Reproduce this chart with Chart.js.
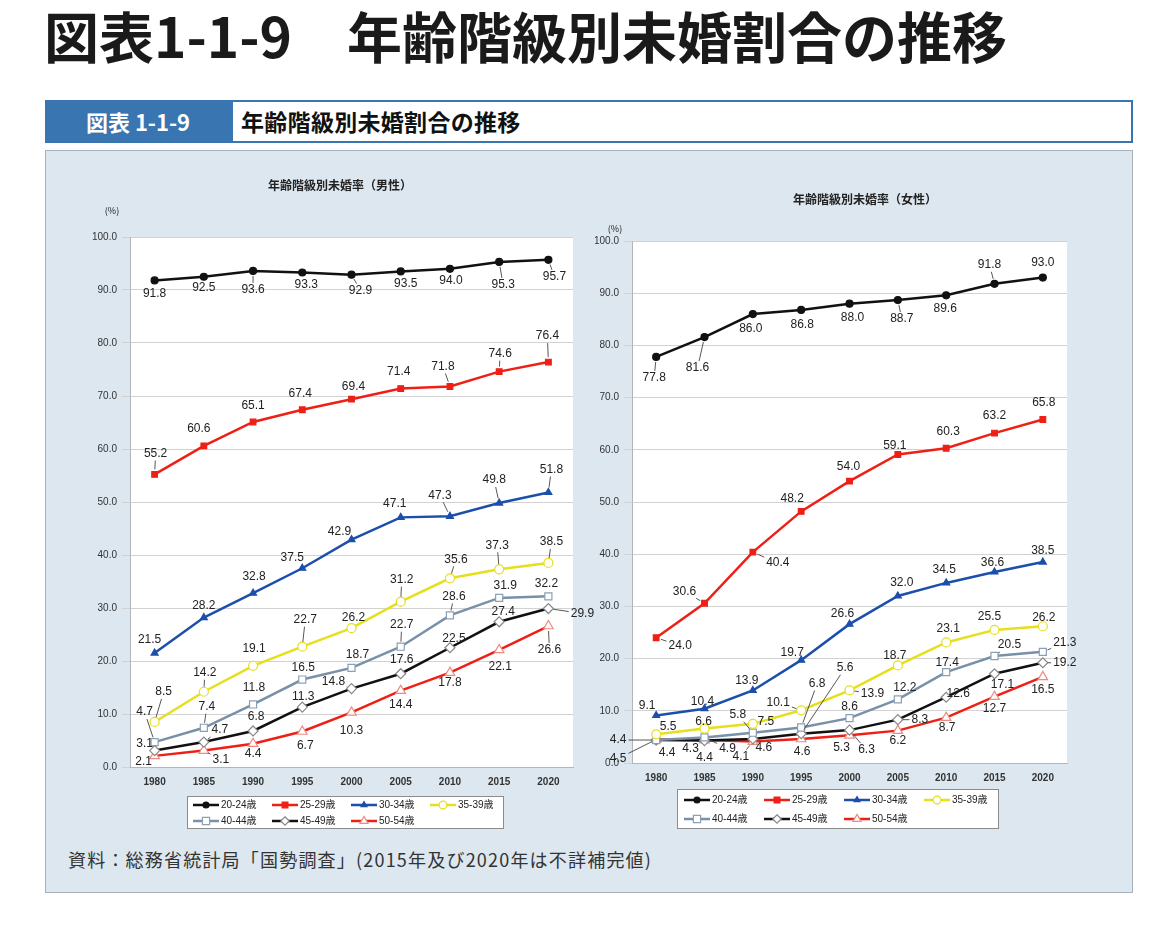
<!DOCTYPE html>
<html lang="ja">
<head>
<meta charset="utf-8">
<script src="https://cdn.jsdelivr.net/npm/chart.js@4.4.1/dist/chart.umd.min.js"></script>
<style>
  body { margin: 0; background: #fff; width: 1161px; height: 934px; position: relative; overflow: hidden;
         font-family: "Noto Sans CJK JP", "Noto Sans", sans-serif; }
  #title { position: absolute; left: 44px; top: 2px; font-size: 55px; font-weight: 700; line-height: 64px;
           color: #1a1a1a; white-space: nowrap; }
  #bar { position: absolute; left: 45px; top: 100px; width: 1088px; height: 43px; }
  #barNo { position: absolute; left: 0; top: 0; width: 186px; height: 43px; background: #3875b1;
           color: #fff; font-size: 22px; font-weight: 700; line-height: 43px; text-align: center; }
  #barTitle { position: absolute; left: 186px; top: 0; width: 890px; height: 39px; border: 2px solid #3875b1;
              background: #fff; color: #111; font-size: 23px; font-weight: 700; line-height: 39px; padding-left: 8px;
              letter-spacing: 0.3px; box-sizing: content-box; }
  #panel { position: absolute; left: 45px; top: 150px; width: 1086px; height: 741px; background: #dce7ef;
           border: 1px solid #a7b2bb; }
  .wrap { position: absolute; }
  #note { position: absolute; left: 68px; top: 846px; font-size: 18px; letter-spacing: 1.2px; color: #333; white-space: nowrap; }
</style>
</head>
<body>
<div id="title">図表1-1-9　年齢階級別未婚割合の推移</div>
<div id="bar"><div id="barNo">図表 1-1-9</div><div id="barTitle">年齢階級別未婚割合の推移</div></div>
<div id="panel"></div>
<div class="wrap" style="left:85px;top:165px;width:520px;height:670px"><canvas id="maleChart"></canvas></div>
<div class="wrap" style="left:595px;top:165px;width:495px;height:670px"><canvas id="femaleChart"></canvas></div>
<div id="note">資料：総務省統計局「国勢調査」(2015年及び2020年は不詳補完値)</div>

<script>
// census years and age groups
const years = ["1980", "1985", "1990", "1995", "2000", "2005", "2010", "2015", "2020"];
const ageGroups = ["20-24歳", "25-29歳", "30-34歳", "35-39歳", "40-44歳", "45-49歳", "50-54歳"];

// unmarried share, men (%)
const male20 = [91.8, 92.5, 93.6, 93.3, 92.9, 93.5, 94.0, 95.3, 95.7];
const male25 = [55.2, 60.6, 65.1, 67.4, 69.4, 71.4, 71.8, 74.6, 76.4];
const male30 = [21.5, 28.2, 32.8, 37.5, 42.9, 47.1, 47.3, 49.8, 51.8];
const male35 = [8.5, 14.2, 19.1, 22.7, 26.2, 31.2, 35.6, 37.3, 38.5];
const male40 = [4.7, 7.4, 11.8, 16.5, 18.7, 22.7, 28.6, 31.9, 32.2];
const male45 = [3.1, 4.7, 6.8, 11.3, 14.8, 17.6, 22.5, 27.4, 29.9];
const male50 = [2.1, 3.1, 4.4, 6.7, 10.3, 14.4, 17.8, 22.1, 26.6];

// unmarried share, women (%)
const female20 = [77.8, 81.6, 86.0, 86.8, 88.0, 88.7, 89.6, 91.8, 93.0];
const female25 = [24.0, 30.6, 40.4, 48.2, 54.0, 59.1, 60.3, 63.2, 65.8];
const female30 = [9.1, 10.4, 13.9, 19.7, 26.6, 32.0, 34.5, 36.6, 38.5];
const female35 = [5.5, 6.6, 7.5, 10.1, 13.9, 18.7, 23.1, 25.5, 26.2];
const female40 = [4.4, 4.9, 5.8, 6.8, 8.6, 12.2, 17.4, 20.5, 21.3];
const female45 = [4.4, 4.3, 4.6, 5.6, 6.3, 8.3, 12.6, 17.1, 19.2];
const female50 = [4.5, 4.4, 4.1, 4.6, 5.3, 6.2, 8.7, 12.7, 16.5];

// line + marker look of each age group
const seriesStyles = [
  { color: "#111111", point: "circle", r: 3.5, fill: "#111111", edge: "#111111" },
  { color: "#ee2016", point: "rect", r: 4, fill: "#ee2016", edge: "#ee2016" },
  { color: "#1c4faa", point: "triangle", r: 4, fill: "#1c4faa", edge: "#1c4faa" },
  { color: "#e6df1c", point: "circle", r: 4.5, fill: "#ffffff", edge: "#e6df1c" },
  { color: "#7891a8", point: "rect", r: 5, fill: "#ffffff", edge: "#8aa0b4" },
  { color: "#111111", point: "rectRot", r: 5, fill: "#ffffff", edge: "#888888" },
  { color: "#ee2016", point: "triangle", r: 5.5, fill: "#ffffff", edge: "#f08a80" },
];

// where each value label sits relative to its point [dx, dy]
const maleLabelPos = [
  [[0, 13], [0, 11], [0, 19], [4, 12], [9, 16], [5, 12], [1, 12], [4, 23], [6, 17]],
  [[1, -21], [-5, -17], [0, -16], [-2, -16], [2, -12], [-2, -17], [-7, -20], [1, -18], [-1, -26]],
  [[-5, -13], [0, -12], [1, -16], [-10, -11], [-12, -8], [-6, -14], [-10, -21], [-5, -23], [3, -23]],
  [[9, -30], [1, -19], [1, -17], [3, -27], [2, -10], [1, -22], [6, -19], [-2, -24], [3, -21]],
  [[-10, -30], [3, -21], [1, -17], [1, -12], [6, -13], [1, -22], [4, -19], [6, -12], [-2, -13]],
  [[-10, -7], [16, -12], [3, -14], [1, -10], [-18, -7], [1, -14], [4, -9], [4, -10], [34, 5]],
  [[-11, 6], [17, 9], [0, 10], [3, 14], [0, 18], [0, 14], [0, 10], [1, 17], [1, 24]],
];
const femaleLabelPos = [
  [[-2, 21], [-7, 31], [-2, 15], [1, 15], [3, 14], [4, 19], [-1, 13], [-5, -19], [0, -15]],
  [[24, 8], [-20, -12], [25, 11], [-9, -13], [-1, -14], [-3, -9], [2, -17], [0, -17], [1, -17]],
  [[-9, -10], [-2, -7], [-6, -10], [-9, -7], [-7, -10], [4, -13], [-2, -13], [-2, -9], [0, -11]],
  [[12, -8], [-1, -7], [13, -2], [-23, -8], [23, 3], [-3, -10], [2, -14], [-5, -13], [1, -9]],
  [[-38, 0], [23, 11], [-15, -18], [16, -44], [0, -11], [7, -12], [1, -9], [15, -11], [22, -9]],
  [[11, 13], [-14, 8], [11, 9], [44, -66], [17, 20], [22, 0], [12, -4], [8, 11], [22, 0]],
  [[-38, 19], [0, 18], [-12, 15], [1, 13], [-8, 12], [0, 10], [1, 10], [0, 12], [0, 13]],
];

const latinFont = '"Liberation Sans", Arial, "Noto Sans CJK JP", sans-serif';

function drawMarker(ctx, style, x, y) {
  const r = style.r;
  ctx.beginPath();
  if (style.point === "circle") {
    ctx.arc(x, y, r, 0, Math.PI * 2);
  } else if (style.point === "rect") {
    const s = r * 0.85;
    ctx.rect(x - s, y - s, s * 2, s * 2);
  } else if (style.point === "rectRot") {
    ctx.moveTo(x, y - r); ctx.lineTo(x + r, y); ctx.lineTo(x, y + r); ctx.lineTo(x - r, y);
    ctx.closePath();
  } else {
    ctx.moveTo(x, y - r); ctx.lineTo(x + r * 0.87, y + r * 0.5); ctx.lineTo(x - r * 0.87, y + r * 0.5);
    ctx.closePath();
  }
  ctx.fillStyle = style.fill;
  ctx.fill();
  ctx.lineWidth = 1.2;
  ctx.strokeStyle = style.edge;
  ctx.stroke();
}

// white plot area, chart title, (%) unit and boxed legend
const decoPlugin = {
  id: "deco",
  beforeDraw(chart) {
    const a = chart.chartArea, ctx = chart.ctx;
    ctx.save();
    ctx.fillStyle = "#ffffff";
    ctx.fillRect(a.left, a.top, a.right - a.left, a.bottom - a.top);
    ctx.restore();
  },
  afterDraw(chart, args, o) {
    const ctx = chart.ctx;
    ctx.save();
    ctx.fillStyle = "#222";
    ctx.textBaseline = "middle";
    ctx.textAlign = "center";
    ctx.font = 'bold 12px "Noto Sans CJK JP", sans-serif';
    ctx.fillText(o.title, o.titleX, o.titleY);
    ctx.font = '9px "Noto Sans CJK JP", sans-serif';
    ctx.fillText("(%)", o.unitX, o.unitY);

    // legend box
    const L = o.legend;
    ctx.fillStyle = "#ffffff";
    ctx.fillRect(L.x, L.y, L.w, L.h);
    ctx.strokeStyle = "#8c8c8c";
    ctx.lineWidth = 1;
    ctx.strokeRect(L.x + 0.5, L.y + 0.5, L.w, L.h);
    ctx.font = "10px " + latinFont;
    ctx.textAlign = "left";
    chart.data.datasets.forEach((ds, i) => {
      const col = i % 4, row = Math.floor(i / 4);
      const x = L.x + L.first + col * L.step, y = L.y + L.row1 + row * L.rowGap;
      const st = seriesStyles[i];
      ctx.strokeStyle = st.color;
      ctx.lineWidth = 2.5;
      ctx.beginPath(); ctx.moveTo(x, y); ctx.lineTo(x + 26, y); ctx.stroke();
      drawMarker(ctx, { ...st, r: st.r * 0.85 }, x + 13, y);
      ctx.fillStyle = "#222";
      ctx.fillText(ds.label, x + 28, y + 0.5);
    });
    ctx.restore();
  },
};

// value labels with thin leader lines when placed far from the point
const valueLabelPlugin = {
  id: "valueLabels",
  afterDatasetsDraw(chart, args, o) {
    const ctx = chart.ctx;
    ctx.save();
    ctx.font = "12px " + latinFont;
    ctx.textAlign = "center";
    ctx.textBaseline = "middle";
    chart.data.datasets.forEach((ds, i) => {
      const meta = chart.getDatasetMeta(i);
      meta.data.forEach((pt, j) => {
        const [dx, dy] = o.offsets[i][j];
        const text = ds.data[j].toFixed(1);
        const lx = pt.x + dx, ly = pt.y + dy;
        const dist = Math.hypot(dx, dy);
        if (dist > 18) {
          const hw = ctx.measureText(text).width / 2 + 2, hh = 7;
          const t = Math.min(dx ? hw / Math.abs(dx) : 99, dy ? hh / Math.abs(dy) : 99);
          const ex = lx - dx * t, ey = ly - dy * t;
          const sx = pt.x + dx * 5 / dist, sy = pt.y + dy * 5 / dist;
          ctx.strokeStyle = "#444";
          ctx.lineWidth = 0.9;
          ctx.beginPath(); ctx.moveTo(sx, sy); ctx.lineTo(ex, ey); ctx.stroke();
        }
        ctx.fillStyle = "#222";
        ctx.fillText(text, lx, ly);
      });
    });
    ctx.restore();
  },
};

function makeChart(id, series, labelPos, deco, geom) {
  const ctx = document.getElementById(id).getContext("2d");
  return new Chart(ctx, {
    type: "line",
    data: {
      labels: years,
      datasets: series.map((vals, i) => ({
        label: ageGroups[i],
        data: vals,
        borderColor: seriesStyles[i].color,
        borderWidth: 2.5,
        pointStyle: seriesStyles[i].point,
        pointRadius: seriesStyles[i].r,
        pointBackgroundColor: seriesStyles[i].fill,
        pointBorderColor: seriesStyles[i].edge,
        pointBorderWidth: 1.2,
        tension: 0,
        clip: false,
      })),
    },
    options: {
      responsive: true,
      maintainAspectRatio: false,
      animation: false,
      layout: { padding: geom.padding },
      plugins: {
        legend: { display: false },
        tooltip: { enabled: false },
        deco: deco,
        valueLabels: { offsets: labelPos },
      },
      scales: {
        x: {
          offset: true,
          grid: { display: false, drawTicks: false },
          border: { color: "#b5b5b5" },
          ticks: { color: "#333", padding: 9, maxRotation: 0, font: { family: latinFont, size: 10, weight: "bold" } },
          afterFit: (s) => { s.height = 22; },
        },
        y: {
          min: 0,
          max: 100,
          grid: { color: "#d2d2d2" },
          border: { color: "#b5b5b5" },
          ticks: {
            stepSize: 10,
            color: "#333",
            padding: 5,
            font: { family: latinFont, size: 10 },
            callback: (v) => Number(v).toFixed(1),
          },
          afterFit: (s) => { s.width = geom.yWidth; },
        },
      },
    },
    plugins: [decoPlugin, valueLabelPlugin],
  });
}

makeChart("maleChart",
  [male20, male25, male30, male35, male40, male45, male50],
  maleLabelPos,
  {
    title: "年齢階級別未婚率（男性）", titleX: 255, titleY: 20, unitX: 27, unitY: 46,
    legend: { x: 102, y: 631, w: 316, h: 32, first: 6, step: 79, row1: 9, rowGap: 16 },
  },
  { padding: { left: 0, right: 32, top: 72, bottom: 46 }, yWidth: 45 });

makeChart("femaleChart",
  [female20, female25, female30, female35, female40, female45, female50],
  femaleLabelPos,
  {
    title: "年齢階級別未婚率（女性）", titleX: 270, titleY: 34, unitX: 20, unitY: 64,
    legend: { x: 82, y: 624, w: 321, h: 39, first: 7, step: 80, row1: 11, rowGap: 19 },
  },
  { padding: { left: 0, right: 23, top: 76, bottom: 50 }, yWidth: 37 });
</script>
</body>
</html>
